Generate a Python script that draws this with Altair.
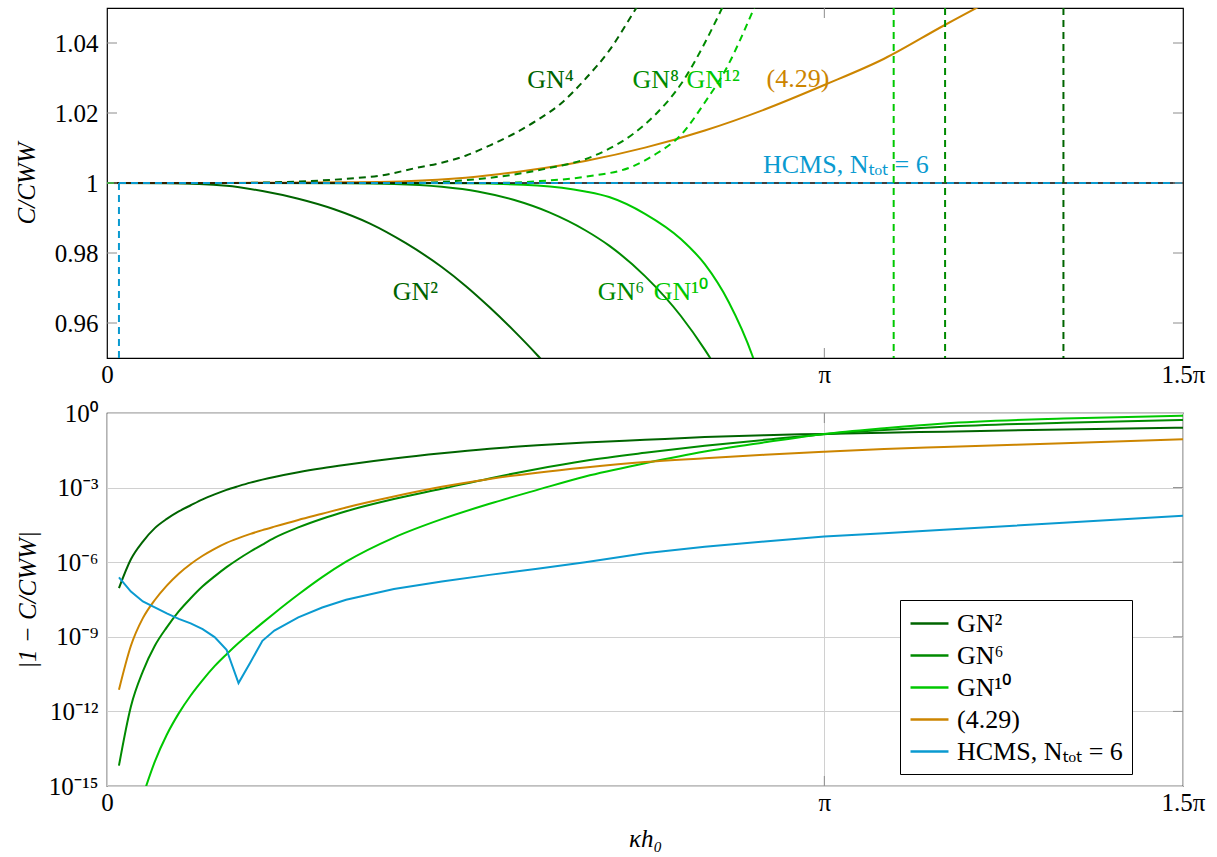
import math
import pandas as pd
import altair as alt

PI = math.pi
STEP = PI / 60.0          # spacing of the κh0 samples
XMAX = 1.5 * PI

# ---------------- bottom panel: log10 |1 - C/C_WW| ----------------
k_err = [1, 2, 3, 4, 5, 6, 7, 8, 9, 10, 11, 12, 13, 14, 16, 18, 20, 24, 28, 32, 36, 40, 45, 50, 55, 60, 65, 70, 80, 90]
log_gn2 = [-7.04, -5.88, -5.17, -4.63, -4.26, -3.96, -3.71, -3.47, -3.27, -3.09, -2.94, -2.80, -2.68, -2.57, -2.38,
           -2.22, -2.08, -1.83, -1.62, -1.44, -1.30, -1.19, -1.08, -0.97, -0.89, -0.84, -0.79, -0.75, -0.66, -0.59]
log_gn6 = [-14.18, -11.80, -10.39, -9.36, -8.62, -7.98, -7.45, -6.97, -6.57, -6.20, -5.87, -5.57, -5.29, -5.02, -4.60,
           -4.25, -3.95, -3.46, -3.05, -2.63, -2.25, -1.92, -1.60, -1.32, -1.08, -0.85, -0.68, -0.55, -0.39, -0.28]
k_err10 = [3, 4, 5, 6, 7, 8, 9, 10, 11, 12, 13, 14, 16, 18, 20, 24, 28, 32, 36, 40, 45, 50, 55, 60, 65, 70, 80, 90]
log_gn10 = [-15.4, -14.02, -12.94, -12.08, -11.36, -10.74, -10.18, -9.70, -9.25, -8.84, -8.44, -8.05, -7.30, -6.60,
            -5.98, -5.01, -4.27, -3.65, -3.09, -2.55, -2.02, -1.55, -1.18, -0.84, -0.61, -0.42, -0.22, -0.11]
log_429 = [-11.13, -9.36, -8.25, -7.52, -6.94, -6.46, -6.07, -5.74, -5.46, -5.22, -5.03, -4.86, -4.71, -4.57, -4.30,
           -4.05, -3.80, -3.36, -2.97, -2.65, -2.40, -2.19, -1.97, -1.82, -1.68, -1.56, -1.45, -1.37, -1.22, -1.06]
log_hcms = [-6.61, -7.18, -7.58, -7.82, -8.06, -8.28, -8.46, -8.69, -9.01, -9.52, -10.86, -10.02, -9.16, -8.75, -8.22,
            -7.82, -7.51, -7.08, -6.78, -6.51, -6.26, -6.00, -5.64, -5.38, -5.17, -4.97, -4.84, -4.70, -4.41, -4.13]

series_names = ["GN²", "GN⁶", "GN¹⁰", "(4.29)", "HCMS, Nₜₒₜ = 6"]
series_colors = ["#006400", "#008a00", "#00c800", "#cc8500", "#0a9ad0"]
DARK, MID, LIGHT, ORANGE, BLUE = series_colors

# ---------------- top panel: C/C_WW ----------------
k_gn2 = [0, 5, 10, 13, 16, 19, 22, 25, 28, 30, 32, 34, 36, 37]
c_gn2 = [1.0, 0.9999, 0.9992, 0.9977, 0.9955, 0.9925, 0.9884, 0.9828, 0.9760, 0.9706, 0.9645, 0.9579, 0.9508, 0.947]
k_gn6 = [0, 10, 20, 24, 28, 31, 34, 37, 40, 42, 45, 48, 50, 51]
c_gn6 = [1.0, 1.0, 0.9999, 0.9997, 0.9989, 0.9976, 0.9952, 0.9916, 0.9865, 0.9821, 0.9734, 0.9620, 0.9524, 0.947]
k_gn10 = [0, 20, 30, 36, 40, 42, 45, 48, 50, 52, 54, 55]
c_gn10 = [1.0, 1.0, 0.9999, 0.9993, 0.9976, 0.9960, 0.9912, 0.9840, 0.9768, 0.9660, 0.9505, 0.940]
k_gn4 = [0, 10, 15, 20, 23, 26, 28, 30, 32, 34, 36, 38, 40, 42, 44, 45]
c_gn4 = [1.0, 1.0, 1.0003, 1.0012, 1.0022, 1.0044, 1.0058, 1.0078, 1.0107, 1.014, 1.018, 1.0228, 1.0297, 1.0378, 1.0485, 1.054]
k_gn8 = [0, 25, 30, 34, 37, 40, 42, 44, 46, 48, 50, 51, 52]
c_gn8 = [1.0, 1.0, 1.0008, 1.0024, 1.0043, 1.0068, 1.0098, 1.014, 1.02, 1.0282, 1.04, 1.0468, 1.054]
k_gn12 = [0, 32, 36, 40, 44, 46, 48, 50, 52, 53, 54, 55]
c_gn12 = [1.0, 1.0, 1.0005, 1.0018, 1.0048, 1.0085, 1.0137, 1.023, 1.034, 1.0412, 1.049, 1.057]
k_429 = [0, 10, 15, 20, 25, 30, 35, 40, 45, 50, 55, 60, 65, 70, 73, 75]
c_429 = [1.0, 1.0, 1.0001, 1.0002, 1.0005, 1.0015, 1.0035, 1.0063, 1.0101, 1.0150, 1.0210, 1.0280, 1.0355, 1.0450, 1.0505, 1.054]
k_hcms = [1, 90]
c_hcms = [1.0, 1.0]
k_poles = [65.8, 70.1, 80.0]          # vertical dashed jumps of GN12, GN8, GN4
pole_colors = [LIGHT, MID, DARK]

top_labels = ["GN⁴", "GN⁸", "GN¹²", "(4.29)", "HCMS, Nₜₒₜ = 6", "GN²", "GN⁶", "GN¹⁰"]
top_label_k = [37.1, 45.9, 50.7, 57.8, 61.8, 25.8, 43.0, 48.0]
top_label_c = [1.0294, 1.0294, 1.0294, 1.0297, 1.0051, 0.9689, 0.9689, 0.9689]
top_label_colors = [DARK, MID, LIGHT, ORANGE, BLUE, DARK, MID, LIGHT]

top_yticks = [0.96, 0.98, 1.0, 1.02, 1.04]
bottom_yticks = [1e-15, 1e-12, 1e-9, 1e-6, 1e-3, 1.0]
x_ticks = [0.0, PI, XMAX]

W, H1, H2 = 1076, 350, 373
FONT = "Liberation Serif, Noto Sans"
TICK_GRAY = "#8c8c8c"
TXT = 26

# ---------------- data frames ----------------
rows = []
for name, ks, logs in [(series_names[0], k_err, log_gn2), (series_names[1], k_err, log_gn6),
                       (series_names[2], k_err10, log_gn10), (series_names[3], k_err, log_429),
                       (series_names[4], k_err, log_hcms)]:
    for k, v in zip(ks, logs):
        rows.append({"x": k * STEP, "y": 10.0 ** v, "series": name})
bottom_df = pd.DataFrame(rows)

solid_rows, dash_rows = [], []
for name, ks, cs, col, target in [("GN2", k_gn2, c_gn2, DARK, solid_rows), ("GN6", k_gn6, c_gn6, MID, solid_rows),
                                  ("GN10", k_gn10, c_gn10, LIGHT, solid_rows), ("429", k_429, c_429, ORANGE, solid_rows),
                                  ("GN4", k_gn4, c_gn4, DARK, dash_rows), ("GN8", k_gn8, c_gn8, MID, dash_rows),
                                  ("GN12", k_gn12, c_gn12, LIGHT, dash_rows), ("HCMS", k_hcms, c_hcms, BLUE, dash_rows)]:
    for k, c in zip(ks, cs):
        target.append({"x": k * STEP, "y": c, "name": name, "col": col})
solid_df = pd.DataFrame(solid_rows)
dash_df = pd.DataFrame(dash_rows)
pole_df = pd.DataFrame({"x": [k * STEP for k in k_poles], "col": pole_colors})
hcms_drop_df = pd.DataFrame({"x": [STEP], "y": [0.95], "y2": [1.0]})
label_df = pd.DataFrame({"x": [k * STEP for k in top_label_k], "y": top_label_c,
                         "text": top_labels, "col": top_label_colors})

x_label_expr = "datum.value < 1 ? '0' : (datum.value < 4 ? 'π' : '1.5π')"


def x_enc(bottom_panel):
    return alt.X("x:Q", scale=alt.Scale(domain=[0, XMAX], nice=False, zero=False),
                 axis=alt.Axis(values=x_ticks, labelExpr=x_label_expr, tickSize=0, domain=False,
                               grid=bottom_panel, gridColor="#d0d0d0",
                               labelFlush=False, labelPadding=4,
                               title="κh₀" if bottom_panel else None,
                               titleFontStyle="italic", titleBaseline="middle", titleY=52))


# ---------------- top panel ----------------
top_y = alt.Y("y:Q", scale=alt.Scale(domain=[0.95, 1.05], nice=False, zero=False),
              axis=alt.Axis(values=top_yticks, format=".2~f", tickSize=0, domain=False, grid=False,
                            labelFlush=False, labelPadding=9, title="C/CWW", titleFontStyle="italic",
                            titleX=-81, titleBaseline="middle"))

t_ref = alt.Chart(pd.DataFrame({"y": [1.0]})).mark_rule(color="black", strokeWidth=1.5).encode(y="y:Q")
t_solid = alt.Chart(solid_df).mark_line(strokeWidth=2, clip=True, interpolate="monotone").encode(
    x=x_enc(False), y=top_y, detail="name:N", color=alt.Color("col:N", scale=None))
t_dash = alt.Chart(dash_df).mark_line(strokeWidth=2, strokeDash=[7, 5], clip=True, interpolate="monotone").encode(
    x="x:Q", y="y:Q", detail="name:N", color=alt.Color("col:N", scale=None))
t_poles = alt.Chart(pole_df).mark_rule(strokeWidth=2, strokeDash=[7, 5]).encode(
    x="x:Q", color=alt.Color("col:N", scale=None))
t_drop = alt.Chart(hcms_drop_df).mark_rule(strokeWidth=2, strokeDash=[7, 5], color=BLUE).encode(
    x="x:Q", y="y:Q", y2="y2:Q")
t_text = alt.Chart(label_df).mark_text(font=FONT, fontSize=TXT).encode(
    x="x:Q", y="y:Q", text="text:N", color=alt.Color("col:N", scale=None))
tick_df_top = pd.DataFrame({"y": top_yticks})
t_lt = alt.Chart(tick_df_top).mark_rule(color=TICK_GRAY).encode(y="y:Q", x=alt.value(0), x2=alt.value(10))
t_rt = alt.Chart(tick_df_top).mark_rule(color=TICK_GRAY).encode(y="y:Q", x=alt.value(W - 10), x2=alt.value(W))
pi_df = pd.DataFrame({"x": [PI]})
t_pt = alt.Chart(pi_df).mark_rule(color=TICK_GRAY).encode(x="x:Q", y=alt.value(0), y2=alt.value(10))
t_pb = alt.Chart(pi_df).mark_rule(color=TICK_GRAY).encode(x="x:Q", y=alt.value(H1 - 10), y2=alt.value(H1))

top = alt.layer(t_solid, t_ref, t_dash, t_poles, t_drop, t_text, t_lt, t_rt, t_pt, t_pb).properties(
    width=W, height=H1)

# ---------------- bottom panel ----------------
ylab_expr = ("datum.value >= 0.5 ? '10⁰' : datum.value >= 5e-4 ? '10⁻³' : datum.value >= 5e-7 ? '10⁻⁶' : "
             "datum.value >= 5e-10 ? '10⁻⁹' : datum.value >= 5e-13 ? '10⁻¹²' : '10⁻¹⁵'")
b_y = alt.Y("y:Q", scale=alt.Scale(type="log", domain=[1e-15, 1.0], nice=False),
            axis=alt.Axis(values=bottom_yticks, labelExpr=ylab_expr, tickSize=0, domain=False, grid=True,
                          gridColor="#d0d0d0", labelFlush=False, labelPadding=9, title="|1 − C/CWW|",
                          titleFontStyle="italic", titleX=-80, titleBaseline="middle"))
color_enc = alt.Color("series:N", scale=alt.Scale(domain=series_names, range=series_colors),
                      legend=alt.Legend(title=None, orient="none", legendX=793, legendY=592,
                                        symbolType="M-1.46,0H1.46", symbolSize=676, symbolStrokeWidth=2.5,
                                        symbolOffset=6, labelFont=FONT, labelFontSize=TXT, labelLimit=400,
                                        labelOffset=13, rowPadding=4, padding=9, strokeColor="black",
                                        fillColor="white", cornerRadius=0))
smooth_df = bottom_df[bottom_df["series"] != series_names[4]]
hcms_df = bottom_df[bottom_df["series"] == series_names[4]]
b_lines = alt.Chart(smooth_df).mark_line(strokeWidth=2, clip=True, interpolate="monotone").encode(
    x=x_enc(True), y=b_y, color=color_enc)
b_hcms = alt.Chart(hcms_df).mark_line(strokeWidth=2, clip=True).encode(
    x="x:Q", y="y:Q", color=color_enc)
tick_df_bot = pd.DataFrame({"y": bottom_yticks[1:-1]})
b_rt = alt.Chart(tick_df_bot).mark_rule(color=TICK_GRAY).encode(y="y:Q", x=alt.value(W - 10), x2=alt.value(W))
b_pt = alt.Chart(pi_df).mark_rule(color=TICK_GRAY).encode(x="x:Q", y=alt.value(0), y2=alt.value(10))
b_pb = alt.Chart(pi_df).mark_rule(color=TICK_GRAY).encode(x="x:Q", y=alt.value(H2 - 10), y2=alt.value(H2))

bottom = alt.layer(b_lines, b_hcms, b_rt, b_pt, b_pb).properties(width=W, height=H2)

chart = alt.vconcat(top, bottom, spacing=55, bounds="flush").properties(
    padding={"left": 13, "top": 6, "right": 5, "bottom": 5},
    background="white",
).configure_view(stroke="black", strokeWidth=1.2).configure_axis(
    labelFont=FONT, labelFontSize=25, labelColor="black", titleFont=FONT, titleFontSize=25,
    titleColor="black", titleFontWeight="normal"
)

chart.save("out.html", embed_options={"renderer": "svg", "actions": False})
